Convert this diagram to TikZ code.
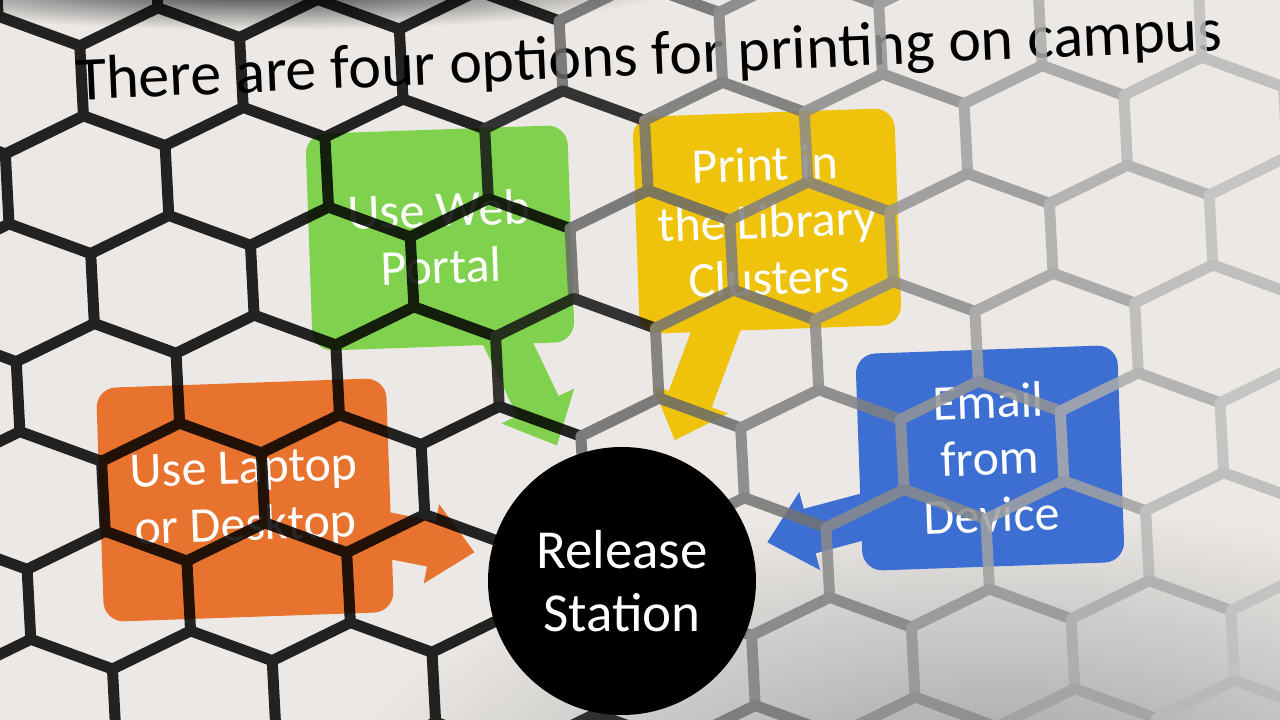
\documentclass[tikz,border=0pt]{standalone}
\usepackage{fontspec}
\setmainfont{Carlito}
\usetikzlibrary{arrows.meta, positioning, calc}
\definecolor{paper}{HTML}{EBE8E5}
\definecolor{webGreen}{HTML}{80D24E}
\definecolor{libraryYellow}{HTML}{EFC20C}
\definecolor{emailBlue}{HTML}{3D6ED2}
\definecolor{laptopOrange}{HTML}{E8732E}
\pgfdeclarelayer{backdrop}
\pgfdeclarelayer{under}
\pgfdeclarelayer{mesh}
\pgfdeclarelayer{over}
\pgfsetlayers{backdrop,under,main,mesh,over}
\tikzset{
  box/.style = {
    rectangle,
    rounded corners=20pt,
    minimum width=262pt,
    minimum height=217pt,
    inner sep=0pt,
    align=center,
    text=white,
    font=\fontsize{50}{57}\selectfont,
    rotate=2,
  },
  callout/.style = {
    line width=46pt,
    -{Triangle[width=78pt, length=44pt]},
    shorten >=16pt,
  },
  meshLine/.style = {
    line width=11pt,
    line cap=round,
    line join=round,
  },
}

\begin{document}
\begin{tikzpicture}[x=1pt, y=-1pt]
\useasboundingbox (0,0) rectangle (1280,720);

\begin{pgfonlayer}{backdrop}
\fill[paper] (0,0) rectangle (1280,720);
\shade[inner color=gray!80, outer color=paper] (1000,830) ellipse [x radius=680, y radius=330];
\shade[inner color=black!85, outer color=paper] (260,-15) ellipse [x radius=420, y radius=45];
\end{pgfonlayer}

\node(Title)[font=\fontsize{62}{70}\selectfont, rotate=2.5, anchor=base] at (650,75) {There are four options for printing on campus};

\node(Web)[box, fill=webGreen] at (440,238) {Use Web\\Portal};
\node(Library)[box, fill=libraryYellow] at (767,221) {Print in\\the Library\\Clusters};
\node(Email)[box, fill=emailBlue] at (990,458) {Email\\from\\Device};
\node(Laptop)[box, fill=laptopOrange, minimum width=290pt, minimum height=234pt] at (245,500) {Use Laptop\\or Desktop};

\begin{pgfonlayer}{over}
\node(Station)[circle, fill=black, minimum size=268pt, inner sep=0pt, align=center, text=white, font=\fontsize{55}{63}\selectfont] at (622,581) {Release\\Station};
\end{pgfonlayer}

\begin{pgfonlayer}{under}
\draw[callout, webGreen] ([shift={(56,-20)}]Web.south) -- (Station);
\draw[callout, libraryYellow] ([shift={(-47,-20)}]Library.south) -- (Station);
\draw[callout, emailBlue] ([shift={(20,50)}]Email.west) -- (Station);
\draw[callout, laptopOrange] ([shift={(-20,37)}]Laptop.east) -- (Station);
\end{pgfonlayer}

\begin{pgfonlayer}{mesh}
\begin{scope}[rotate around={3:(640,360)}, transparency group, opacity=.85]
\foreach \r in {0,...,10} {
  \foreach \k in {-2,...,9} {
    \pgfmathsetmacro\hx{17+160*\k+80*mod(\r,2)}
    \pgfmathsetmacro\hy{-156+104*\r}
    \pgfmathtruncatemacro\ink{max(25,min(100,max(100-(\hx-560)*0.45,60-(\hx-650)*0.055)))}
    \draw[meshLine, black!\ink] (\hx-80,\hy+35) -- ++(0,-70) -- ++(80,-34) -- ++(80,34);
  }
}
\end{scope}
\end{pgfonlayer}

\end{tikzpicture}
\end{document}
